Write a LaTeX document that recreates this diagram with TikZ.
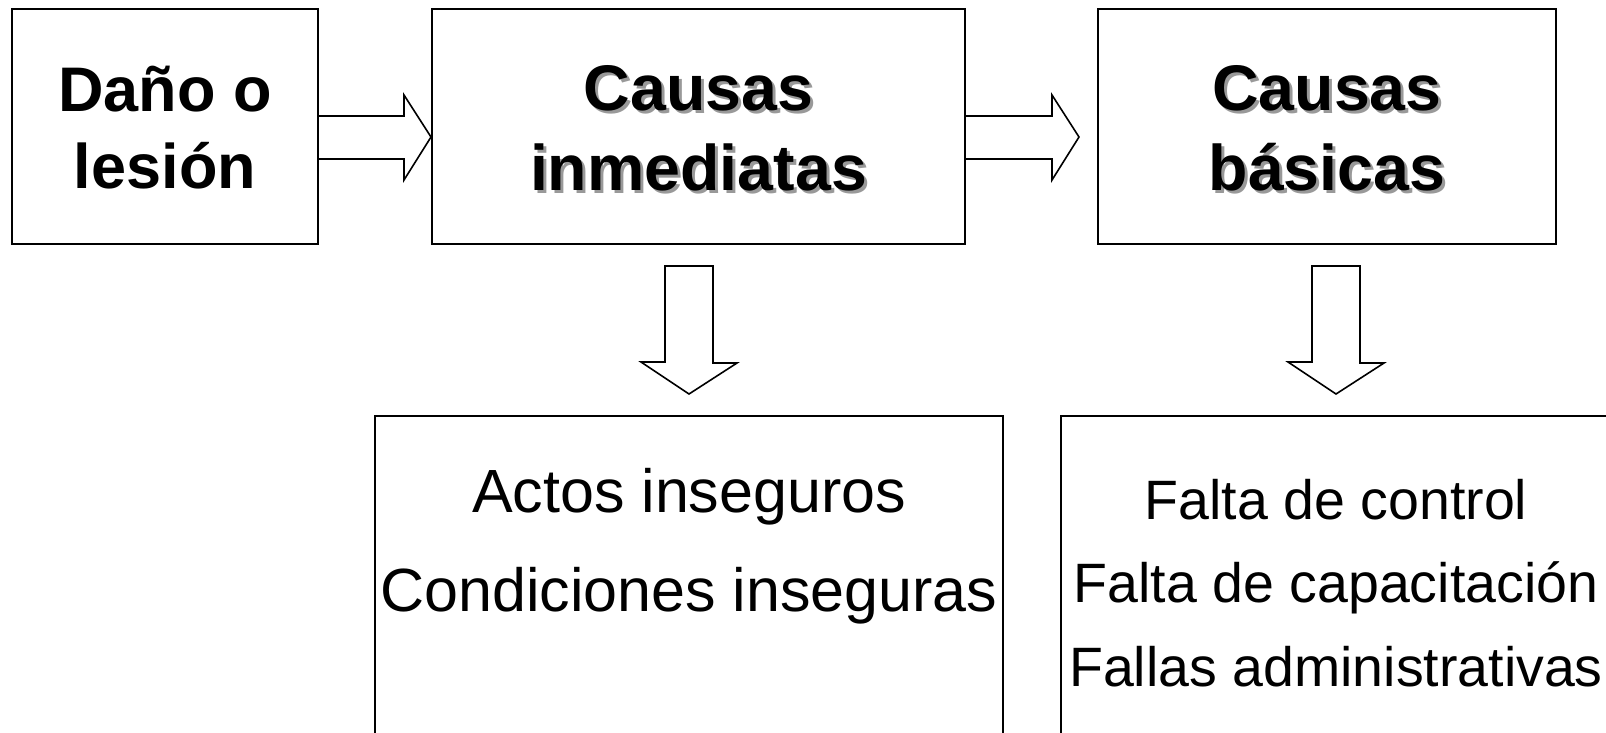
\documentclass[tikz,border=0pt]{standalone}
\usepackage{fontspec}
\setmainfont{Liberation Sans}
\usetikzlibrary{calc}
\definecolor{sombra}{gray}{0.6}
\newcommand{\sombreado}[1]{\leavevmode\rlap{\kern3pt\raisebox{-3pt}{\textcolor{sombra}{#1}}}#1}

\begin{document}
\begin{tikzpicture}[x=1pt, y=-1pt,
    caja/.style={draw, line width=2pt, inner sep=0pt},
    titulo/.style={font=\bfseries\fontsize{64.5}{79}\selectfont, anchor=base},
    flecha/.style={draw, line width=1.6pt, line join=miter}]
    \path [use as bounding box, fill=white] (0,0) rectangle (1606,732);

    % fila de arriba
    \node [caja, minimum width=306pt, minimum height=235pt] (dano) at (165,126.5) {};
    \node [caja, minimum width=533pt, minimum height=235pt] (inmediatas) at (698.5,126.5) {};
    \node [caja, minimum width=458pt, minimum height=235pt] (basicas) at (1327,126.5) {};
    \foreach \linea [count=\i from 0] in {Daño o, lesión}
        \node [titulo, font=\bfseries\fontsize{63}{78}\selectfont] (dano-\i) at ($(dano.north)+(0,103.5+77*\i)$) {\linea};
    \foreach \linea [count=\i from 0] in {Causas, inmediatas}
        \node [titulo] (inmediatas-\i) at ($(inmediatas.north)+(0,102.5+80*\i)$) {\sombreado{\linea}};
    \foreach \linea [count=\i from 0] in {Causas, básicas}
        \node [titulo] (basicas-\i) at ($(basicas.north)+(0,102.5+80*\i)$) {\sombreado{\linea}};

    % fila de abajo
    \node [caja, anchor=north, minimum width=628pt, minimum height=400pt] (actos) at (689,415) {};
    \node [caja, anchor=north, minimum width=550pt, minimum height=400pt] (faltas) at (1336,415) {};
    \foreach \linea [count=\i from 0] in {Actos inseguros, Condiciones inseguras}
        \node [font=\fontsize{61}{70}\selectfont, anchor=base] (actos-\i) at ($(actos.north)+(0,97+99*\i)$) {\linea};
    \foreach \linea [count=\i from 0] in {Falta de control, Falta de capacitación, Fallas administrativas}
        \node [font=\fontsize{55.5}{60}\selectfont, anchor=base] (faltas-\i) at ($(faltas.north)+(0,104+83.5*\i)$) {\linea};

    % flechas
    \draw [flecha] ($(dano.east)+(0,-10.5)$) -- ++(85,0) -- ++(0,-21) -- ($(inmediatas.west)+(0,10.5)$) -- ($(dano.east)+(85,53.5)$) -- ++(0,-21) -- ($(dano.east)+(0,32.5)$);
    \draw [flecha] ($(inmediatas.east)+(0,-10.5)$) -- ++(86,0) -- ++(0,-21) -- ($(basicas.west)+(-18,10.5)$) -- ($(inmediatas.east)+(86,53.5)$) -- ++(0,-21) -- ($(inmediatas.east)+(0,32.5)$);
    \draw [flecha] ($(inmediatas.south -| actos.north)+(-24,21)$) -- ++(48,0) -- ++(0,97) -- ++(24,0) -- ($(actos.north)+(0,-21)$) -- ++(-48,-32) -- ++(24,0) -- cycle;
    \draw [flecha] ($(basicas.south -| faltas.north)+(-24,21)$) -- ++(48,0) -- ++(0,97) -- ++(24,0) -- ($(faltas.north)+(0,-21)$) -- ++(-48,-32) -- ++(24,0) -- cycle;
\end{tikzpicture}
\end{document}
